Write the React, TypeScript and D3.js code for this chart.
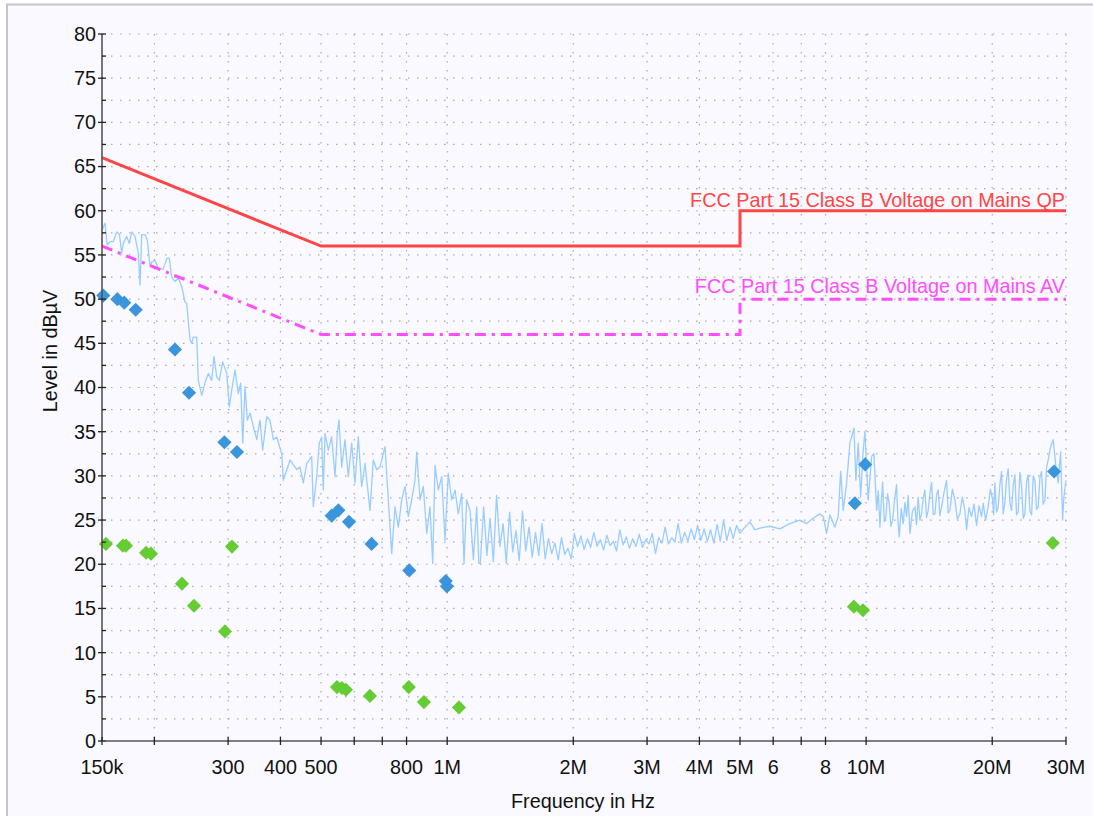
import React from "react";
import * as d3 from "d3";

const W = 1093;
const H = 816;
const PLOT = { left: 102, right: 1066, top: 34, bottom: 741 };

// ---- axis data ----
const yMajorTicks = [0, 5, 10, 15, 20, 25, 30, 35, 40, 45, 50, 55, 60, 65, 70, 75, 80];
const yMinorTicks = [2.5, 7.5, 12.5, 17.5, 22.5, 27.5, 32.5, 37.5, 42.5, 47.5, 52.5, 57.5, 62.5, 67.5, 72.5, 77.5];
const xTickKHz = [150, 200, 300, 400, 500, 600, 700, 800, 1000, 2000, 3000, 4000, 5000, 6000, 7000, 8000, 10000, 20000, 30000];
const xLabelKHz = [150, 300, 400, 500, 800, 1000, 2000, 3000, 4000, 5000, 6000, 8000, 10000, 20000, 30000];
const xLabelText = ["150k", "300", "400", "500", "800", "1M", "2M", "3M", "4M", "5M", "6", "8", "10M", "20M", "30M"];

// ---- limit lines ----
const qpLimitKHz = [150, 500, 5000, 5000, 30000];
const qpLimitLevel = [66, 56, 56, 60, 60];
const avLimitKHz = [150, 500, 5000, 5000, 30000];
const avLimitLevel = [56, 46, 46, 50, 50];

// ---- measured spectrum (peak trace), [kHz, dBµV] ----
const traceLow: [number, number][] = [
  [150.2, 57.8], [152.5, 58.6], [154.4, 56.1], [156.7, 56.5], [159.6, 56.5], [162.6, 57.6], [165.0, 57.4], [167.2, 55.2],
  [168.6, 56.3], [171.8, 57.1], [174.3, 56.3], [176.6, 57.6], [179.8, 57.1], [183.1, 55.2], [184.9, 51.6], [186.6, 57.3],
  [190.0, 57.3], [192.4, 56.7], [195.3, 53.7], [197.1, 54.2], [200.7, 54.4], [204.4, 53.5], [210.1, 53.4], [214.1, 54.6],
  [217.2, 54.6], [220.0, 52.5], [224.1, 52.0], [228.2, 52.4], [232.5, 51.4], [236.7, 49.7], [238.9, 49.5], [243.3, 45.4],
  [245.6, 45.0], [247.8, 45.7], [252.4, 45.7], [254.7, 40.8], [259.5, 39.1], [264.2, 40.5], [269.1, 41.6], [274.1, 40.8],
  [277.6, 43.5], [281.8, 41.2], [285.8, 40.8], [291.2, 42.9], [297.7, 41.6], [302.0, 37.8], [306.0, 39.7], [311.6, 42.0],
  [317.3, 39.3], [321.5, 40.5], [325.1, 33.7], [329.2, 40.1], [333.4, 36.3], [338.4, 37.1], [344.6, 35.6], [351.1, 34.1],
  [357.5, 36.3], [362.8, 32.9], [370.9, 36.7], [377.7, 36.3], [384.6, 34.1], [391.9, 34.4], [402.8, 32.5], [406.3, 29.5],
  [421.6, 31.8], [437.4, 30.7], [445.4, 31.0], [453.5, 29.2], [462.1, 31.4], [474.9, 32.2], [479.1, 26.5], [488.2, 29.9],
  [495.2, 33.7], [501.8, 34.4], [506.2, 28.4], [511.0, 34.8], [520.3, 32.9], [530.1, 34.4], [539.9, 29.9], [546.7, 34.8],
  [551.8, 36.3], [560.1, 31.0], [570.3, 34.1], [580.8, 29.9], [591.7, 33.7], [602.6, 29.2], [613.6, 34.4], [625.2, 28.8],
  [636.6, 31.4], [654.3, 26.1], [666.3, 31.8], [678.9, 30.7], [691.3, 31.0], [710.6, 33.3], [723.6, 27.3], [737.2, 21.2],
  [750.7, 26.5], [764.5, 24.2], [778.9, 27.3], [793.2, 28.8], [807.7, 25.4], [822.9, 27.3], [838.0, 29.5], [845.9, 32.7],
  [861.3, 27.3], [877.1, 28.8], [893.7, 23.5], [910.0, 26.5], [923.6, 20.1], [935.4, 31.2], [952.5, 28.4], [970.5, 29.9],
  [988.2, 22.7], [1006, 30.3], [1025, 27.3], [1044, 28.4], [1063, 25.7], [1083, 28.0], [1097, 20.1], [1113, 27.3],
  [1134, 26.1], [1155, 20.5], [1176, 26.5], [1190, 20.1],
];
const traceMid: [number, number][] = [
  [1200, 20.1], [1222, 26.5], [1244, 21.0], [1266, 25.2], [1289, 20.3], [1312, 27.8], [1336, 22.0], [1360, 24.6],
  [1384, 20.1], [1409, 25.9], [1434, 21.4], [1460, 23.8], [1486, 20.4], [1513, 26.0], [1540, 21.5], [1568, 24.2],
  [1596, 20.8], [1625, 23.6], [1654, 21.0], [1684, 24.6], [1714, 20.6], [1745, 22.9], [1776, 21.2], [1808, 22.4],
  [1841, 20.5], [1874, 23.0], [1908, 21.1], [1942, 21.8], [1977, 20.6], [2012, 23.5], [2048, 22.0], [2085, 23.2],
  [2123, 21.7], [2161, 22.9], [2200, 21.9], [2240, 23.6], [2280, 22.0], [2321, 22.8], [2363, 21.6], [2405, 23.3],
  [2448, 22.1], [2492, 22.6], [2537, 21.5], [2583, 23.9], [2629, 22.2], [2676, 23.1], [2724, 21.8], [2773, 22.9],
  [2823, 22.0], [2874, 23.4], [2926, 21.9], [2978, 22.8], [3032, 22.3], [3086, 23.5], [3142, 21.2], [3198, 23.0],
  [3256, 22.4], [3314, 24.2], [3374, 22.3], [3435, 23.0], [3496, 22.5], [3559, 24.6], [3623, 22.4], [3688, 23.6],
  [3755, 22.6], [3822, 24.0], [3891, 22.8], [3961, 24.4], [4032, 22.7], [4105, 24.0], [4179, 22.6], [4254, 23.9],
  [4330, 22.4], [4408, 24.5], [4487, 22.6], [4568, 25.0], [4650, 22.7], [4734, 24.2], [4819, 22.9], [4906, 24.4],
  [4994, 23.5], [5136, 24.2], [5279, 24.8], [5426, 23.9], [5578, 24.1], [5894, 24.3], [6227, 24.0], [6578, 24.6],
  [6950, 25.0], [7211, 24.6], [7478, 25.2], [7758, 25.7], [7900, 25.4], [8048, 23.5], [8196, 25.6], [8424, 24.2],
  [8579, 25.4],
];
const traceHigh: [number, number][] = [
  [8693, 30.5], [8818, 26.1], [8984, 29.2], [9149, 33.7], [9234, 34.4], [9352, 35.4], [9455, 29.5], [9576, 33.7],
  [9703, 27.6], [9842, 32.9], [9935, 35.0], [10028, 31.0], [10117, 27.3], [10308, 32.2], [10439, 32.5], [10595, 26.1],
  [10690, 28.3], [10789, 24.2], [10870, 27.0], [10950, 29.3], [11050, 24.8], [11150, 25.4], [11250, 28.0], [11352, 26.9],
  [11460, 24.3], [11567, 25.0], [11700, 27.4], [11823, 29.0], [11910, 25.1], [11994, 23.1], [12130, 26.3], [12261, 24.6],
  [12380, 27.0], [12492, 25.4], [12600, 27.8], [12721, 23.5], [12900, 26.0], [13075, 26.5], [13190, 24.5], [13314, 27.6],
  [13440, 25.0], [13565, 25.7], [13690, 27.5], [13814, 28.4], [13940, 25.3], [14067, 26.1], [14200, 28.0], [14333, 29.3],
  [14460, 25.6], [14595, 25.7], [14730, 27.9], [14861, 28.4], [15000, 25.5], [15141, 26.5], [15350, 28.2], [15563, 29.5],
  [15700, 25.8], [15848, 26.1], [16070, 28.5], [16289, 27.3], [16510, 25.1], [16742, 25.7], [16970, 27.6], [17208, 26.1],
  [17369, 23.9], [17600, 26.4], [17853, 25.4], [18100, 26.8], [18350, 24.4], [18600, 26.6], [18861, 25.4], [19028, 26.9],
  [19290, 25.0], [19557, 26.5], [19800, 28.5], [20036, 27.3], [20160, 25.6], [20291, 29.2], [20480, 25.9], [20663, 26.5],
  [20850, 28.9], [21053, 30.5], [21240, 25.7], [21438, 26.9], [21630, 29.6], [21831, 30.8], [22040, 27.0], [22244, 26.1],
  [22450, 29.0], [22652, 30.1], [22860, 25.6], [23066, 25.9], [23280, 30.4], [23502, 28.8], [23720, 25.2], [23933, 25.7],
  [24150, 29.3], [24371, 30.1], [24600, 26.0], [24831, 25.6], [25060, 30.0], [25286, 29.5], [25520, 26.2], [25749, 26.5],
  [25990, 29.8], [26235, 30.5], [26470, 26.8], [26715, 27.3], [26960, 31.0], [27204, 31.8], [27566, 33.3], [27963, 34.1],
  [28380, 31.0], [28742, 29.2], [29124, 32.7], [29445, 25.0], [29657, 27.6], [29983, 29.5],
];

// ---- final measurements ----
const qpKHz = [151.1, 163.2, 169.5, 180.5, 224, 242, 294, 315, 530, 550, 583, 660, 812, 992, 999, 9400, 9950, 28100];
const qpLevel = [50.4, 50.0, 49.6, 48.8, 44.3, 39.4, 33.8, 32.7, 25.5, 26.1, 24.8, 22.3, 19.3, 18.1, 17.5, 26.9, 31.3, 30.5];
const avKHz = [153.3, 168.3, 171.1, 191.1, 196.3, 232.8, 248.7, 294.9, 306.5, 545.7, 560.8, 573.3, 654, 810, 880, 1067, 9350, 9830, 27900];
const avLevel = [22.3, 22.1, 22.1, 21.3, 21.2, 17.8, 15.3, 12.4, 22.0, 6.1, 6.0, 5.8, 5.1, 6.1, 4.4, 3.8, 15.2, 14.8, 22.4];

const FONT = "'Liberation Sans', Arial, Helvetica, sans-serif";
const FS = 19.8;

export default function App() {
  const x = d3.scaleLog().domain([150, 30000]).range([PLOT.left, PLOT.right]);
  const y = d3.scaleLinear().domain([0, 80]).range([PLOT.bottom, PLOT.top]);

  const line = d3
    .line<[number, number]>()
    .x((d) => x(d[0]))
    .y((d) => y(d[1]));

  const trace = [...traceLow, ...traceMid, ...traceHigh];
  const qpLimit = qpLimitKHz.map((f, i) => [f, qpLimitLevel[i]] as [number, number]);
  const avLimit = avLimitKHz.map((f, i) => [f, avLimitLevel[i]] as [number, number]);

  const diamond = d3.symbol(d3.symbolSquare, 100)() as string;

  const gridColor = "#a9a9b0";
  const axisColor = "#555";

  return (
    <svg
      width={W}
      height={H}
      style={{ position: "absolute", left: 0, top: 0, display: "block" }}
      fontFamily={FONT}
    >
      <rect x={0} y={0} width={W} height={H} fill="#ffffff" />
      <rect x={7} y={4.5} width={W + 20} height={H + 20} fill="#f9f9ff" stroke="#c4c4cc" strokeWidth={2} />

      {/* horizontal grid */}
      {[...yMajorTicks, ...yMinorTicks].filter((v) => v > 0).map((v) => (
        <line
          key={"hg" + v}
          x1={PLOT.left}
          x2={PLOT.right}
          y1={y(v)}
          y2={y(v)}
          stroke={gridColor}
          strokeWidth={1.2}
          strokeDasharray="1.5,7.5"
        />
      ))}
      {/* vertical grid */}
      {xTickKHz.filter((f) => f > 150).map((f) => (
        <line
          key={"vg" + f}
          x1={x(f)}
          x2={x(f)}
          y1={PLOT.top}
          y2={PLOT.bottom}
          stroke={gridColor}
          strokeWidth={1.2}
          strokeDasharray="1.5,7.5"
        />
      ))}

      {/* spectrum trace */}
      <path d={line(trace) as string} fill="none" stroke="#99ccff" strokeWidth={1.3} strokeLinejoin="round" />

      {/* limit lines */}
      <path d={line(avLimit) as string} fill="none" stroke="#ff4dff" strokeWidth={3} strokeDasharray="11,6,3,6" />
      <path d={line(qpLimit) as string} fill="none" stroke="#ff4545" strokeWidth={3} />

      <text x={PLOT.right - 1} y={y(60) - 4} textAnchor="end" fontSize={FS} fill="#ff4545">
        FCC Part 15 Class B Voltage on Mains QP
      </text>
      <text x={PLOT.right - 1} y={y(50) - 6} textAnchor="end" fontSize={FS} fill="#ff4dff">
        FCC Part 15 Class B Voltage on Mains AV
      </text>

      {/* markers */}
      {avKHz.map((f, i) => (
        <path
          key={"av" + i}
          d={diamond}
          transform={`translate(${x(f)},${y(avLevel[i])}) rotate(45)`}
          fill="#66cc33"
        />
      ))}
      {qpKHz.map((f, i) => (
        <path
          key={"qp" + i}
          d={diamond}
          transform={`translate(${x(f)},${y(qpLevel[i])}) rotate(45)`}
          fill="#3a95dd"
        />
      ))}

      {/* y axis */}
      <line x1={PLOT.left} x2={PLOT.left} y1={PLOT.top} y2={PLOT.bottom} stroke={axisColor} strokeWidth={1.6} />
      {yMajorTicks.map((v) => (
        <g key={"yt" + v}>
          <line x1={PLOT.left - 4} x2={PLOT.left + 4} y1={y(v)} y2={y(v)} stroke="#222" strokeWidth={1.3} />
          <text x={96} y={y(v)} dy="0.35em" textAnchor="end" fontSize={FS} fill="#111">
            {v}
          </text>
        </g>
      ))}
      {yMinorTicks.map((v) => (
        <line key={"ym" + v} x1={PLOT.left} x2={PLOT.left + 4} y1={y(v)} y2={y(v)} stroke="#222" strokeWidth={1.3} />
      ))}

      {/* x axis */}
      <line x1={PLOT.left} x2={PLOT.right} y1={PLOT.bottom} y2={PLOT.bottom} stroke={axisColor} strokeWidth={1.6} />
      {xTickKHz.map((f) => (
        <line key={"xt" + f} x1={x(f)} x2={x(f)} y1={PLOT.bottom - 4} y2={PLOT.bottom + 4} stroke="#222" strokeWidth={1.3} />
      ))}
      {xLabelKHz.map((f, i) => (
        <text key={"xl" + f} x={x(f)} y={774} textAnchor="middle" fontSize={FS} fill="#111">
          {xLabelText[i]}
        </text>
      ))}

      <text x={583} y={808} textAnchor="middle" fontSize={FS} fill="#111">
        Frequency in Hz
      </text>
      <text transform={`translate(57,351) rotate(-90)`} textAnchor="middle" fontSize={FS} fill="#111">
        Level in dBµV
      </text>
    </svg>
  );
}
